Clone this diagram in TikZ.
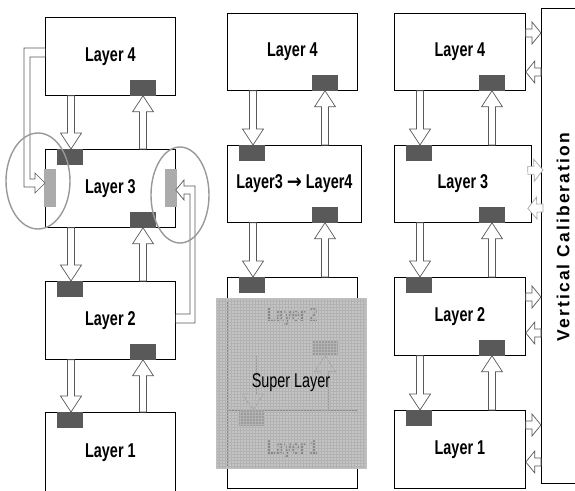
\documentclass[tikz,border=0pt]{standalone}
\usepackage{fontspec}
\setmainfont{Liberation Sans}
\newfontfamily\narrowfont[FakeStretch=0.72]{Liberation Sans}
\newfontfamily\spacedfont[LetterSpace=12]{Liberation Sans}
\newfontfamily\arrowfont[FakeStretch=0.9]{DejaVu Sans}
\usepackage{tikz}
\usetikzlibrary{calc,patterns}

\tikzset{
  layerbox/.style={draw, line width=0.8pt, anchor=north west, inner sep=0pt,
    minimum width=130pt, minimum height=78pt,
    font=\narrowfont\bfseries\fontsize{20}{22}\selectfont},
  port/.style={fill=black!65},
  sideport/.style={fill=black!33},
  blockarrow/.style={draw=black!65, fill=white, line width=0.7pt},
  ring/.style={draw=black!40, line width=1.4pt},
  superlayer/.style={draw=black!25, line width=3pt, fill=black!30, fill opacity=0.76,
    text opacity=1, postaction={pattern=grid, pattern color=black!30},
    minimum width=148pt, minimum height=168pt,
    font=\narrowfont\fontsize{20}{22}\selectfont},
  shaft half/.store in=\bashaft, head half/.store in=\bahead, head len/.store in=\balen,
  shaft half=3.5pt, head half=10.5pt, head len=16pt,
}

% hollow block arrow from #2 to #3
\newcommand{\blockarrow}[3][]{%
  \begin{scope}[#1]
    \coordinate (ba-s) at (#2);
    \coordinate (ba-t) at (#3);
    \coordinate (ba-h) at ($(ba-t)!\balen!(ba-s)$);
    \draw[blockarrow,#1] ($(ba-s)!\bashaft!90:(ba-t)$) -- ($(ba-h)!\bashaft!90:(ba-t)$)
      -- ($(ba-h)!\bahead!90:(ba-t)$) -- (ba-t) -- ($(ba-h)!\bahead!-90:(ba-t)$)
      -- ($(ba-h)!\bashaft!-90:(ba-t)$) -- ($(ba-s)!\bashaft!-90:(ba-t)$) -- cycle;
  \end{scope}}
\newcommand{\portat}[1]{\fill[port] (#1) rectangle ++(26,16);}

\begin{document}
\begin{tikzpicture}[x=1pt,y=-1pt]
  \fill[white] (0,0) rectangle (575,490);
  \useasboundingbox (0,0) rectangle (575,490);

  % left column
  \node[layerbox] (a4) at (45,17) {Layer 4};
  \node[layerbox] (a3) at (45,149) {Layer 3};
  \node[layerbox] (a2) at (45,281) {Layer 2};
  \node[layerbox, minimum height=80pt] (a1) at (45,412) {Layer 1};

  % middle column
  \node[layerbox, minimum height=77pt] (b4) at (227,13) {Layer 4};
  \node[layerbox, minimum width=134pt, minimum height=77pt] (b34) at (227,145) {Layer3 {\arrowfont\bfseries →} Layer4};
  \node[layerbox] (b2) at (227,277) {Layer 2};
  \node[layerbox] (b1) at (227,410) {Layer 1};
  \draw[line width=0.8pt] (b2.south west) -- (b1.north west);
  \draw[line width=0.8pt] (b2.south east) -- (b1.north east);

  % right column
  \node[layerbox, minimum width=131pt, minimum height=77pt] (c4) at (394,13) {Layer 4};
  \node[layerbox, minimum width=137pt, minimum height=77pt] (c3) at (394,145) {Layer 3};
  \node[layerbox, minimum width=131pt] (c2) at (394,277) {Layer 2};
  \node[layerbox, minimum width=131pt] (c1) at (394,410) {Layer 1};

  \foreach \up/\lo in {a4/a3,a3/a2,a2/a1,b4/b34,b34/b2,b2/b1,c4/c3,c3/c2,c2/c1}{
    \blockarrow{$(\up.south west)+(26,0)$}{$(\lo.north west)+(26,0)$}
    \blockarrow{$(\lo.north west)+(98,0)$}{$(\up.south west)+(98,0)$}
  }
  \foreach \bx in {a4,a3,a2,b4,b34,b2,c4,c3,c2}{
    \portat{$(\bx.south west)+(85,-16)$}
  }
  \foreach \bx in {a3,a2,a1,b34,b2,b1,c3,c2,c1}{
    \portat{$(\bx.north west)+(12,0)$}
  }

  % side links of layer 3
  \fill[sideport] ($(a3.north west)+(-1,20)$) rectangle ++(12,38);
  \fill[sideport] ($(a3.north east)+(-11,20)$) rectangle ++(12,38);
  \draw[blockarrow] (a4.west |- 0,48) -- (24,48) -- (24,187) -- (35,187) -- (35,193)
    -- (a3.west |- 0,183) -- (35,173) -- (35,179) -- (30,179) -- (30,57) -- (a4.west |- 0,57);
  \draw[blockarrow] (a2.east |- 0,314) -- (190,314) -- (190,194) -- (184,194) -- (184,200)
    -- (a3.east |- 0,190) -- (184,180) -- (184,186) -- (195,186) -- (195,323) -- (a2.east |- 0,323);
  \draw[ring] (38,181) ellipse [x radius=32pt, y radius=48pt];
  \draw[ring] (180,195) ellipse [x radius=29pt, y radius=48pt];

  \node[superlayer] (sl) at (291,383) {Super Layer};

  % calibration bar
  \node[draw, line width=0.8pt, anchor=north west, minimum width=60pt, minimum height=475pt] (vc) at (541,8) {};
  \node[rotate=90, font=\spacedfont\bfseries\fontsize{17.5}{20}\selectfont] (vclabel) at (563,237) {Vertical Caliberation};

  \foreach \bx/\ya/\yb in {c4/33/72,c2/297/333,c1/425/462}{
    \blockarrow[shaft half=4pt, head half=11pt, head len=9pt]{\bx.east |- 0,\ya}{vc.west |- 0,\ya}
    \blockarrow[shaft half=4pt, head half=11pt, head len=9pt]{vc.west |- 0,\yb}{\bx.east |- 0,\yb}
  }
  \blockarrow[shaft half=4pt, head half=11pt, head len=9pt, draw=black!35]{$(c3.east)+(-4,-13.5)$}{$(vc.west |- 0,170)+(2,0)$}
  \blockarrow[shaft half=4pt, head half=11pt, head len=9pt, draw=black!35]{$(vc.west |- 0,208)+(2,0)$}{$(c3.east)+(-4,24.5)$}
\end{tikzpicture}
\end{document}
